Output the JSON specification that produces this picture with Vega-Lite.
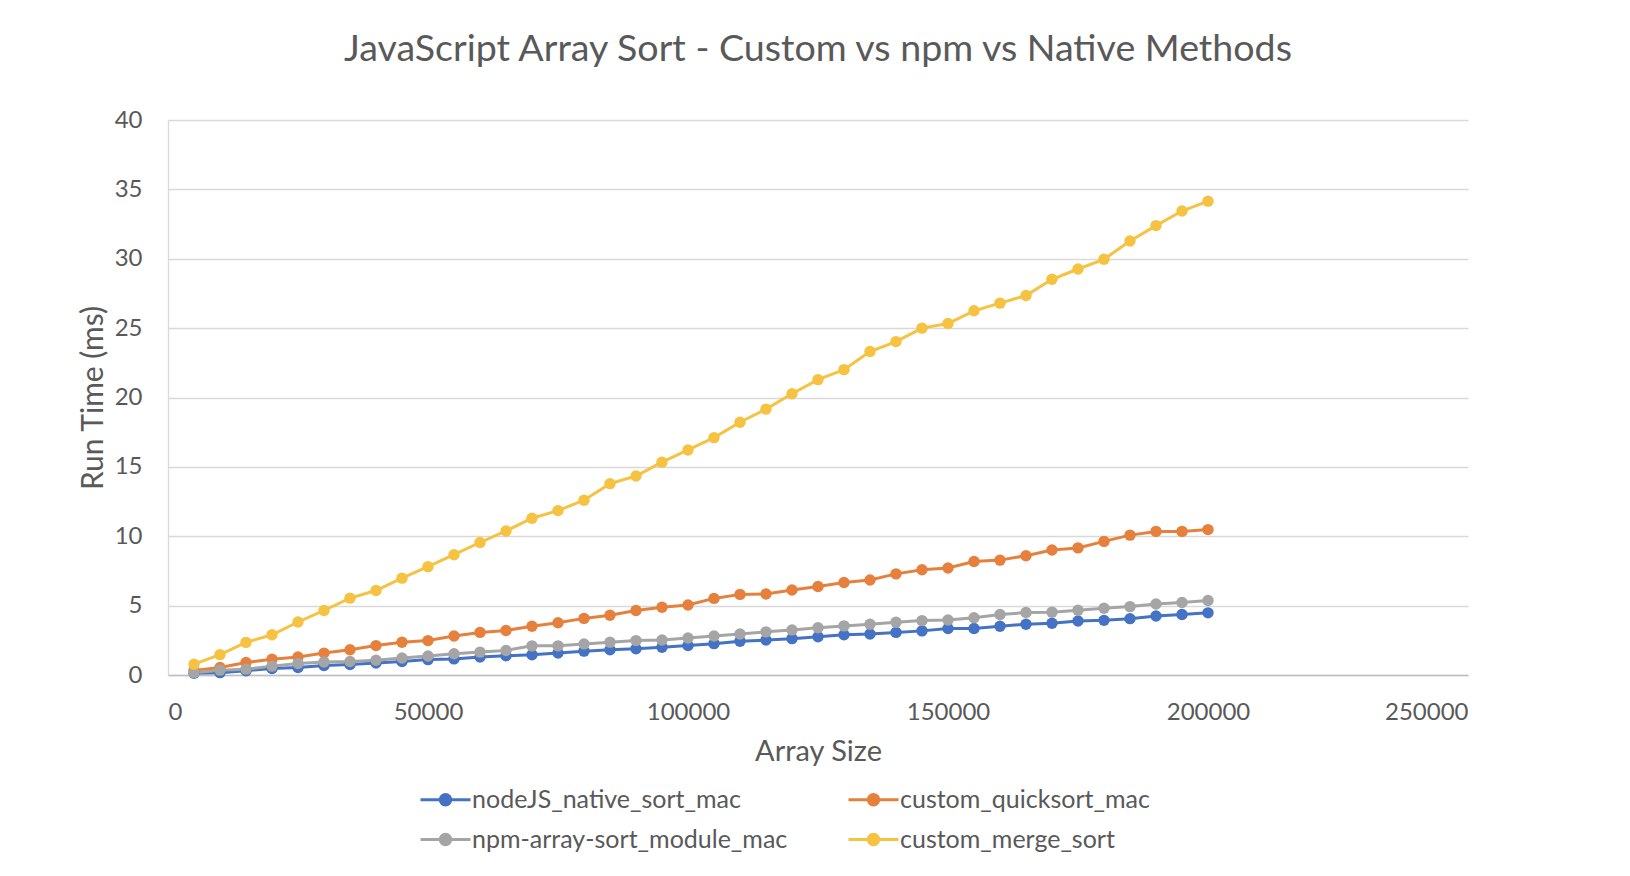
{
  "$schema": "https://vega.github.io/schema/vega-lite/v6.json",
  "width": 1300,
  "height": 555,
  "autosize": {"type": "none"},
  "padding": {"left": 168, "top": 120, "right": 161, "bottom": 201},
  "background": "white",
  "config": {"view": {"stroke": null}, "font": "Lato"},
  "title": {"text": "JavaScript Array Sort - Custom vs npm vs Native Methods", "font": "Lato", "fontSize": 37.6, "fontWeight": "normal", "color": "#595959", "anchor": "middle", "offset": 39},
  "datasets": {
    "runs": [
      {"n": 5000, "series": "nodeJS_native_sort_mac", "t": 0.12},
      {"n": 10000, "series": "nodeJS_native_sort_mac", "t": 0.17},
      {"n": 15000, "series": "nodeJS_native_sort_mac", "t": 0.31},
      {"n": 20000, "series": "nodeJS_native_sort_mac", "t": 0.47},
      {"n": 25000, "series": "nodeJS_native_sort_mac", "t": 0.54},
      {"n": 30000, "series": "nodeJS_native_sort_mac", "t": 0.68},
      {"n": 35000, "series": "nodeJS_native_sort_mac", "t": 0.75},
      {"n": 40000, "series": "nodeJS_native_sort_mac", "t": 0.87},
      {"n": 45000, "series": "nodeJS_native_sort_mac", "t": 0.97},
      {"n": 50000, "series": "nodeJS_native_sort_mac", "t": 1.11},
      {"n": 55000, "series": "nodeJS_native_sort_mac", "t": 1.16},
      {"n": 60000, "series": "nodeJS_native_sort_mac", "t": 1.30},
      {"n": 65000, "series": "nodeJS_native_sort_mac", "t": 1.39},
      {"n": 70000, "series": "nodeJS_native_sort_mac", "t": 1.46},
      {"n": 75000, "series": "nodeJS_native_sort_mac", "t": 1.58},
      {"n": 80000, "series": "nodeJS_native_sort_mac", "t": 1.72},
      {"n": 85000, "series": "nodeJS_native_sort_mac", "t": 1.82},
      {"n": 90000, "series": "nodeJS_native_sort_mac", "t": 1.89},
      {"n": 95000, "series": "nodeJS_native_sort_mac", "t": 2.00},
      {"n": 100000, "series": "nodeJS_native_sort_mac", "t": 2.12},
      {"n": 105000, "series": "nodeJS_native_sort_mac", "t": 2.26},
      {"n": 110000, "series": "nodeJS_native_sort_mac", "t": 2.43},
      {"n": 115000, "series": "nodeJS_native_sort_mac", "t": 2.52},
      {"n": 120000, "series": "nodeJS_native_sort_mac", "t": 2.62},
      {"n": 125000, "series": "nodeJS_native_sort_mac", "t": 2.76},
      {"n": 130000, "series": "nodeJS_native_sort_mac", "t": 2.90},
      {"n": 135000, "series": "nodeJS_native_sort_mac", "t": 2.95},
      {"n": 140000, "series": "nodeJS_native_sort_mac", "t": 3.07},
      {"n": 145000, "series": "nodeJS_native_sort_mac", "t": 3.18},
      {"n": 150000, "series": "nodeJS_native_sort_mac", "t": 3.35},
      {"n": 155000, "series": "nodeJS_native_sort_mac", "t": 3.35},
      {"n": 160000, "series": "nodeJS_native_sort_mac", "t": 3.51},
      {"n": 165000, "series": "nodeJS_native_sort_mac", "t": 3.66},
      {"n": 170000, "series": "nodeJS_native_sort_mac", "t": 3.73},
      {"n": 175000, "series": "nodeJS_native_sort_mac", "t": 3.89},
      {"n": 180000, "series": "nodeJS_native_sort_mac", "t": 3.94},
      {"n": 185000, "series": "nodeJS_native_sort_mac", "t": 4.06},
      {"n": 190000, "series": "nodeJS_native_sort_mac", "t": 4.25},
      {"n": 195000, "series": "nodeJS_native_sort_mac", "t": 4.36},
      {"n": 200000, "series": "nodeJS_native_sort_mac", "t": 4.48},
      {"n": 5000, "series": "custom_quicksort_mac", "t": 0.33},
      {"n": 10000, "series": "custom_quicksort_mac", "t": 0.54},
      {"n": 15000, "series": "custom_quicksort_mac", "t": 0.90},
      {"n": 20000, "series": "custom_quicksort_mac", "t": 1.13},
      {"n": 25000, "series": "custom_quicksort_mac", "t": 1.30},
      {"n": 30000, "series": "custom_quicksort_mac", "t": 1.58},
      {"n": 35000, "series": "custom_quicksort_mac", "t": 1.82},
      {"n": 40000, "series": "custom_quicksort_mac", "t": 2.12},
      {"n": 45000, "series": "custom_quicksort_mac", "t": 2.36},
      {"n": 50000, "series": "custom_quicksort_mac", "t": 2.48},
      {"n": 55000, "series": "custom_quicksort_mac", "t": 2.81},
      {"n": 60000, "series": "custom_quicksort_mac", "t": 3.07},
      {"n": 65000, "series": "custom_quicksort_mac", "t": 3.21},
      {"n": 70000, "series": "custom_quicksort_mac", "t": 3.51},
      {"n": 75000, "series": "custom_quicksort_mac", "t": 3.77},
      {"n": 80000, "series": "custom_quicksort_mac", "t": 4.08},
      {"n": 85000, "series": "custom_quicksort_mac", "t": 4.31},
      {"n": 90000, "series": "custom_quicksort_mac", "t": 4.65},
      {"n": 95000, "series": "custom_quicksort_mac", "t": 4.88},
      {"n": 100000, "series": "custom_quicksort_mac", "t": 5.04},
      {"n": 105000, "series": "custom_quicksort_mac", "t": 5.52},
      {"n": 110000, "series": "custom_quicksort_mac", "t": 5.81},
      {"n": 115000, "series": "custom_quicksort_mac", "t": 5.84},
      {"n": 120000, "series": "custom_quicksort_mac", "t": 6.13},
      {"n": 125000, "series": "custom_quicksort_mac", "t": 6.38},
      {"n": 130000, "series": "custom_quicksort_mac", "t": 6.67},
      {"n": 135000, "series": "custom_quicksort_mac", "t": 6.85},
      {"n": 140000, "series": "custom_quicksort_mac", "t": 7.29},
      {"n": 145000, "series": "custom_quicksort_mac", "t": 7.59},
      {"n": 150000, "series": "custom_quicksort_mac", "t": 7.71},
      {"n": 155000, "series": "custom_quicksort_mac", "t": 8.18},
      {"n": 160000, "series": "custom_quicksort_mac", "t": 8.28},
      {"n": 165000, "series": "custom_quicksort_mac", "t": 8.60},
      {"n": 170000, "series": "custom_quicksort_mac", "t": 9.01},
      {"n": 175000, "series": "custom_quicksort_mac", "t": 9.16},
      {"n": 180000, "series": "custom_quicksort_mac", "t": 9.63},
      {"n": 185000, "series": "custom_quicksort_mac", "t": 10.08},
      {"n": 190000, "series": "custom_quicksort_mac", "t": 10.35},
      {"n": 195000, "series": "custom_quicksort_mac", "t": 10.35},
      {"n": 200000, "series": "custom_quicksort_mac", "t": 10.48},
      {"n": 5000, "series": "npm-array-sort_module_mac", "t": 0.17},
      {"n": 10000, "series": "npm-array-sort_module_mac", "t": 0.35},
      {"n": 15000, "series": "npm-array-sort_module_mac", "t": 0.42},
      {"n": 20000, "series": "npm-array-sort_module_mac", "t": 0.64},
      {"n": 25000, "series": "npm-array-sort_module_mac", "t": 0.83},
      {"n": 30000, "series": "npm-array-sort_module_mac", "t": 0.94},
      {"n": 35000, "series": "npm-array-sort_module_mac", "t": 0.97},
      {"n": 40000, "series": "npm-array-sort_module_mac", "t": 1.06},
      {"n": 45000, "series": "npm-array-sort_module_mac", "t": 1.23},
      {"n": 50000, "series": "npm-array-sort_module_mac", "t": 1.37},
      {"n": 55000, "series": "npm-array-sort_module_mac", "t": 1.53},
      {"n": 60000, "series": "npm-array-sort_module_mac", "t": 1.65},
      {"n": 65000, "series": "npm-array-sort_module_mac", "t": 1.77},
      {"n": 70000, "series": "npm-array-sort_module_mac", "t": 2.10},
      {"n": 75000, "series": "npm-array-sort_module_mac", "t": 2.10},
      {"n": 80000, "series": "npm-array-sort_module_mac", "t": 2.24},
      {"n": 85000, "series": "npm-array-sort_module_mac", "t": 2.36},
      {"n": 90000, "series": "npm-array-sort_module_mac", "t": 2.48},
      {"n": 95000, "series": "npm-array-sort_module_mac", "t": 2.52},
      {"n": 100000, "series": "npm-array-sort_module_mac", "t": 2.67},
      {"n": 105000, "series": "npm-array-sort_module_mac", "t": 2.81},
      {"n": 110000, "series": "npm-array-sort_module_mac", "t": 2.95},
      {"n": 115000, "series": "npm-array-sort_module_mac", "t": 3.11},
      {"n": 120000, "series": "npm-array-sort_module_mac", "t": 3.25},
      {"n": 125000, "series": "npm-array-sort_module_mac", "t": 3.40},
      {"n": 130000, "series": "npm-array-sort_module_mac", "t": 3.54},
      {"n": 135000, "series": "npm-array-sort_module_mac", "t": 3.66},
      {"n": 140000, "series": "npm-array-sort_module_mac", "t": 3.80},
      {"n": 145000, "series": "npm-array-sort_module_mac", "t": 3.92},
      {"n": 150000, "series": "npm-array-sort_module_mac", "t": 3.96},
      {"n": 155000, "series": "npm-array-sort_module_mac", "t": 4.13},
      {"n": 160000, "series": "npm-array-sort_module_mac", "t": 4.36},
      {"n": 165000, "series": "npm-array-sort_module_mac", "t": 4.50},
      {"n": 170000, "series": "npm-array-sort_module_mac", "t": 4.53},
      {"n": 175000, "series": "npm-array-sort_module_mac", "t": 4.67},
      {"n": 180000, "series": "npm-array-sort_module_mac", "t": 4.81},
      {"n": 185000, "series": "npm-array-sort_module_mac", "t": 4.93},
      {"n": 190000, "series": "npm-array-sort_module_mac", "t": 5.12},
      {"n": 195000, "series": "npm-array-sort_module_mac", "t": 5.22},
      {"n": 200000, "series": "npm-array-sort_module_mac", "t": 5.37},
      {"n": 5000, "series": "custom_merge_sort", "t": 0.78},
      {"n": 10000, "series": "custom_merge_sort", "t": 1.47},
      {"n": 15000, "series": "custom_merge_sort", "t": 2.35},
      {"n": 20000, "series": "custom_merge_sort", "t": 2.90},
      {"n": 25000, "series": "custom_merge_sort", "t": 3.82},
      {"n": 30000, "series": "custom_merge_sort", "t": 4.65},
      {"n": 35000, "series": "custom_merge_sort", "t": 5.54},
      {"n": 40000, "series": "custom_merge_sort", "t": 6.09},
      {"n": 45000, "series": "custom_merge_sort", "t": 6.98},
      {"n": 50000, "series": "custom_merge_sort", "t": 7.81},
      {"n": 55000, "series": "custom_merge_sort", "t": 8.67},
      {"n": 60000, "series": "custom_merge_sort", "t": 9.55},
      {"n": 65000, "series": "custom_merge_sort", "t": 10.38},
      {"n": 70000, "series": "custom_merge_sort", "t": 11.30},
      {"n": 75000, "series": "custom_merge_sort", "t": 11.85},
      {"n": 80000, "series": "custom_merge_sort", "t": 12.60},
      {"n": 85000, "series": "custom_merge_sort", "t": 13.79},
      {"n": 90000, "series": "custom_merge_sort", "t": 14.34},
      {"n": 95000, "series": "custom_merge_sort", "t": 15.34},
      {"n": 100000, "series": "custom_merge_sort", "t": 16.22},
      {"n": 105000, "series": "custom_merge_sort", "t": 17.11},
      {"n": 110000, "series": "custom_merge_sort", "t": 18.22},
      {"n": 115000, "series": "custom_merge_sort", "t": 19.16},
      {"n": 120000, "series": "custom_merge_sort", "t": 20.27},
      {"n": 125000, "series": "custom_merge_sort", "t": 21.29},
      {"n": 130000, "series": "custom_merge_sort", "t": 22.01},
      {"n": 135000, "series": "custom_merge_sort", "t": 23.31},
      {"n": 140000, "series": "custom_merge_sort", "t": 24.03},
      {"n": 145000, "series": "custom_merge_sort", "t": 25.00},
      {"n": 150000, "series": "custom_merge_sort", "t": 25.33},
      {"n": 155000, "series": "custom_merge_sort", "t": 26.25},
      {"n": 160000, "series": "custom_merge_sort", "t": 26.80},
      {"n": 165000, "series": "custom_merge_sort", "t": 27.35},
      {"n": 170000, "series": "custom_merge_sort", "t": 28.52},
      {"n": 175000, "series": "custom_merge_sort", "t": 29.26},
      {"n": 180000, "series": "custom_merge_sort", "t": 29.96},
      {"n": 185000, "series": "custom_merge_sort", "t": 31.28},
      {"n": 190000, "series": "custom_merge_sort", "t": 32.39},
      {"n": 195000, "series": "custom_merge_sort", "t": 33.44},
      {"n": 200000, "series": "custom_merge_sort", "t": 34.15}
    ]
  },
  "data": {"name": "runs"},
  "mark": {"type": "line", "strokeWidth": 3, "point": {"filled": true, "size": 130, "opacity": 1}},
  "encoding": {
    "x": {
      "field": "n", "type": "quantitative",
      "scale": {"domain": [0, 250000], "nice": false, "zero": true},
      "axis": {
        "title": "Array Size", "values": [0, 50000, 100000, 150000, 200000, 250000], "format": "d",
        "grid": false, "ticks": false, "domain": true, "domainColor": "#BFBFBF", "domainWidth": 1.5,
        "labelFont": "Lato", "labelFontSize": 24, "labelColor": "#595959", "labelPadding": 25,
        "titleFont": "Lato", "titleFontSize": 29, "titleFontWeight": "normal", "titleColor": "#595959", "titlePadding": 13
      }
    },
    "y": {
      "field": "t", "type": "quantitative",
      "scale": {"domain": [0, 40], "nice": false},
      "axis": {
        "title": "Run Time (ms)", "values": [0, 5, 10, 15, 20, 25, 30, 35, 40],
        "grid": true, "gridColor": "#D9D9D9", "gridWidth": 1.3, "ticks": false,
        "domain": true, "domainColor": "#D9D9D9", "domainWidth": 1.3,
        "labelFont": "Lato", "labelFontSize": 24, "labelColor": "#595959", "labelPadding": 26,
        "titleFont": "Lato", "titleFontSize": 30, "titleFontWeight": "normal", "titleColor": "#595959", "titlePadding": 6
      }
    },
    "color": {
      "field": "series", "type": "nominal",
      "scale": {
        "domain": ["nodeJS_native_sort_mac", "npm-array-sort_module_mac", "custom_quicksort_mac", "custom_merge_sort"],
        "range": ["#4472C4", "#A5A5A5", "#E5803D", "#F5C242"]
      },
      "legend": {
        "title": null, "orient": "none", "legendX": 251, "legendY": 653, "columns": 2, "columnPadding": 54, "rowPadding": -5,
        "symbolType": "M-1,0L1,0M-0.21,0A0.21,0.21,0,1,1,0.21,0A0.21,0.21,0,1,1,-0.21,0Z",
        "symbolSize": 2500, "symbolStrokeWidth": 3, "labelOffset": 0, "labelLimit": 0,
        "labelFont": "Lato", "labelFontSize": 25, "labelColor": "#595959",
        "encode": {"symbols": {"update": {"fill": {"scale": "color", "field": "value"}, "stroke": {"scale": "color", "field": "value"}, "strokeWidth": {"value": 3}, "opacity": {"value": 1}}}}
      }
    }
  }
}
